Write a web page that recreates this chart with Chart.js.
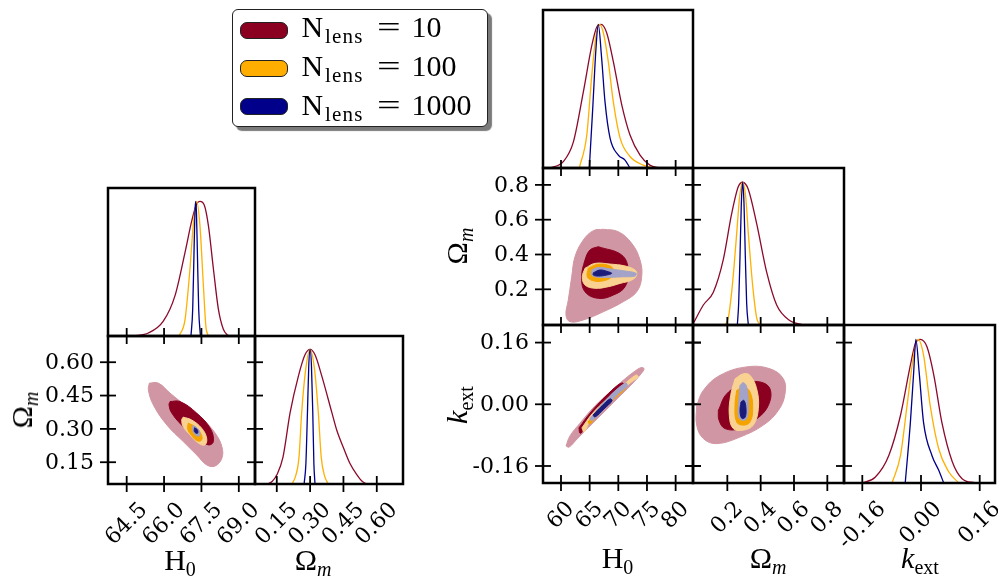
<!DOCTYPE html>
<html>
<head>
<meta charset="utf-8">
<title>Corner plots</title>
<script src="https://cdn.jsdelivr.net/npm/chart.js@4.4.1/dist/chart.umd.min.js"></script>
<style>
  html, body { margin: 0; padding: 0; background: #fff; }
  body { position: relative; width: 998px; height: 576px; overflow: hidden; }
  canvas { position: absolute; }
  .txt { position: absolute; font-family: "Liberation Serif", serif; color: #000; white-space: nowrap; line-height: 1; }
  .axl { font-size: 30px; }
  .axl sub { font-size: 20px; vertical-align: -6px; line-height: 0; }
  .rot { transform: translate(-50%, -50%) rotate(-90deg); }
  .bot { transform: translate(-50%, 0); }
  #legbox { position: absolute; left: 232px; top: 9px; width: 256px; height: 118px; box-sizing: border-box;
            border: 1.5px solid #222; border-radius: 6px; background: #fff; box-shadow: 4px 4px 1px #7a7a7a; }
  .patch { position: absolute; width: 48px; height: 17px; box-sizing: border-box; border: 1px solid #222; border-radius: 7px; }
</style>
</head>
<body>
<script>
// ---------------- data ----------------

// tick values / labels
const h0TicksL = [64.5, 66.0, 67.5, 69.0];
const h0LabelsL = ['64.5', '66.0', '67.5', '69.0'];
const omTicksL = [0.15, 0.30, 0.45, 0.60];
const omLabelsL = ['0.15', '0.30', '0.45', '0.60'];
const h0TicksR = [60, 65, 70, 75, 80];
const h0LabelsR = ['60', '65', '70', '75', '80'];
const omTicksR = [0.2, 0.4, 0.6, 0.8];
const omLabelsR = ['0.2', '0.4', '0.6', '0.8'];
const kTicks = [-0.16, 0.0, 0.16];
const kLabels = ['-0.16', '0.00', '0.16'];

// axis ranges
const h0RangeL = [63.75, 69.65];
const omRangeL = [0.052, 0.718];
const h0RangeR = [56.86, 83.03];
const omRangeRy = [-0.005, 0.897];
const omRangeRx = [-0.006, 0.9];
const kRangeY = [-0.2041, 0.2056];
const kRangeX = [-0.2099, 0.2017];
const pdfRange = [0, 1.1];

// legend
const legendValues = ['10', '100', '1000'];

// 1D marginals, left figure (x, normalised density)
const L_h0_red = [[64.77,0],[65.37,0.022],[65.97,0.11],[66.44,0.30],[66.84,0.62],[67.13,0.87],[67.31,0.98],[67.44,1],[67.62,0.97],[67.78,0.82],[67.98,0.50],[68.18,0.20],[68.38,0.05],[68.58,0]];
const L_h0_orange = [[66.60,0],[66.84,0.12],[67.04,0.5],[67.17,0.82],[67.31,1],[67.44,0.82],[67.58,0.37],[67.68,0.07],[67.78,0]];
const L_h0_blue = [[67.08,0],[67.15,0.2],[67.2,0.6],[67.24,0.92],[67.27,1],[67.3,0.92],[67.34,0.6],[67.39,0.2],[67.46,0]];
const L_om_red = [[0.107,0],[0.13,0.02],[0.151,0.07],[0.178,0.2],[0.21,0.53],[0.247,0.8],[0.277,0.96],[0.30,1],[0.322,0.96],[0.353,0.8],[0.398,0.53],[0.42,0.4],[0.45,0.27],[0.48,0.15],[0.51,0.07],[0.534,0.02],[0.556,0]];
const L_om_orange = [[0.218,0],[0.235,0.06],[0.25,0.2],[0.262,0.53],[0.28,0.85],[0.30,1],[0.32,0.85],[0.337,0.53],[0.35,0.2],[0.365,0.06],[0.382,0]];
const L_om_blue = [[0.273,0],[0.281,0.15],[0.288,0.53],[0.294,0.88],[0.30,1],[0.306,0.88],[0.312,0.53],[0.317,0.15],[0.322,0]];

// 2D contours, left figure (H0, Om)
const L2_red_out = [[65.41,0.506],[65.77,0.506],[66.24,0.461],[66.91,0.400],[67.58,0.340],[68.05,0.281],[68.32,0.220],[68.32,0.168],[68.05,0.133],[67.71,0.138],[67.31,0.183],[66.77,0.243],[66.11,0.318],[65.57,0.408],[65.37,0.476]];
const L2_red_in = [[66.24,0.423],[66.64,0.423],[67.31,0.371],[67.85,0.303],[67.98,0.243],[67.78,0.228],[67.31,0.258],[66.77,0.310],[66.31,0.371],[66.20,0.408]];
const L2_or_out = [[66.77,0.353],[67.11,0.340],[67.51,0.303],[67.71,0.258],[67.64,0.228],[67.38,0.236],[67.04,0.273],[66.77,0.310],[66.71,0.340]];
const L2_or_in = [[66.97,0.326],[67.24,0.310],[67.48,0.278],[67.51,0.250],[67.34,0.246],[67.11,0.269],[66.95,0.299]];
const L2_bl_out = [[67.15,0.314],[67.28,0.309],[67.42,0.289],[67.42,0.269],[67.28,0.271],[67.16,0.291]];
const L2_bl_in = [[67.22,0.305],[67.34,0.296],[67.34,0.280],[67.22,0.287]];

// 1D marginals, right figure
const R_h0_red = [[58.1,0],[60.4,0.044],[62.15,0.18],[63.9,0.53],[65.36,0.85],[66.23,0.98],[66.98,1],[67.98,0.94],[69.13,0.74],[70.6,0.44],[72.04,0.23],[73.79,0.09],[75.5,0.02],[77.3,0]];
const R_h0_orange = [[63.2,0],[64.5,0.23],[65.36,0.64],[66.1,0.92],[66.7,1],[67.4,0.94],[68.25,0.74],[69.13,0.46],[70.3,0.21],[72.04,0.08],[74.36,0.02],[76.1,0]];
const R_h0_blue = [[64.94,0],[65.53,0.41],[66.1,0.83],[66.5,1],[67.1,0.76],[67.68,0.46],[68.55,0.21],[70.0,0.09],[71.17,0.055],[72.04,0]];
const R_om_red = [[0.0,0.02],[0.056,0.14],[0.116,0.23],[0.176,0.46],[0.226,0.78],[0.266,0.97],[0.292,1],[0.326,0.95],[0.376,0.71],[0.436,0.37],[0.496,0.14],[0.576,0.03],[0.656,0]];
const R_om_orange = [[0.186,0],[0.206,0.05],[0.226,0.23],[0.241,0.42],[0.256,0.64],[0.274,0.9],[0.292,1],[0.31,0.9],[0.326,0.64],[0.341,0.42],[0.356,0.23],[0.376,0.05],[0.396,0]];
const R_om_blue = [[0.26,0],[0.268,0.15],[0.276,0.48],[0.284,0.85],[0.292,1],[0.30,0.85],[0.308,0.48],[0.316,0.15],[0.326,0]];
const R_k_red = [[-0.161,0],[-0.125,0.04],[-0.088,0.19],[-0.056,0.47],[-0.029,0.82],[-0.0155,0.97],[-0.002,1],[0.016,0.95],[0.035,0.75],[0.057,0.42],[0.085,0.15],[0.112,0.03],[0.148,0]];
const R_k_orange = [[-0.079,0],[-0.056,0.19],[-0.038,0.54],[-0.02,0.89],[-0.008,1],[0.007,0.89],[0.025,0.54],[0.048,0.24],[0.075,0.08],[0.103,0]];
const R_k_blue = [[-0.043,0],[-0.029,0.42],[-0.02,0.77],[-0.014,1],[-0.005,0.77],[0.007,0.42],[0.03,0.19],[0.048,0.09],[0.062,0]];

// 2D contours, right figure: (H0, Om)
const R2_red_out = [[67.38,0.545],[70.0,0.531],[72.34,0.464],[73.79,0.368],[74.08,0.272],[73.21,0.186],[70.87,0.129],[67.38,0.071],[63.89,0.024],[61.57,0.014],[60.87,0.052],[61.27,0.138],[61.87,0.272],[62.44,0.387],[63.89,0.483],[65.64,0.537]];
const R2_red_in = [[66.51,0.445],[70.59,0.397],[71.75,0.311],[71.17,0.215],[69.13,0.167],[66.51,0.148],[64.19,0.186],[63.61,0.272],[64.19,0.368],[65.06,0.426]];
const R2_or_out = [[64.19,0.321],[65.93,0.349],[68.55,0.345],[71.17,0.334],[72.91,0.311],[73.21,0.282],[72.34,0.253],[70.30,0.234],[68.25,0.215],[65.93,0.206],[64.19,0.225],[63.72,0.272]];
const R2_or_in = [[64.76,0.321],[66.51,0.344],[68.55,0.334],[69.13,0.311],[68.85,0.272],[67.38,0.249],[65.64,0.249],[64.59,0.272]];
const R2_bl_out = [[65.36,0.311],[66.51,0.326],[68.55,0.317],[71.17,0.305],[73.09,0.292],[72.91,0.276],[70.87,0.272],[68.55,0.269],[66.51,0.269],[65.36,0.282]];
const R2_bl_in = [[65.64,0.295],[66.81,0.311],[68.25,0.301],[68.85,0.292],[67.98,0.282],[66.51,0.276],[65.64,0.282]];

// (H0, kext)
const R4_red_out = [[60.87,-0.108],[61.57,-0.082],[63.32,-0.049],[65.93,-0.004],[68.55,0.032],[71.17,0.066],[72.91,0.086],[73.96,0.095],[74.49,0.092],[73.96,0.079],[72.22,0.050],[69.77,0.014],[67.16,-0.025],[64.71,-0.061],[62.62,-0.093],[61.40,-0.111]];
const R4_red_in = [[63.14,-0.061],[65.06,-0.023],[67.68,0.019],[69.95,0.050],[70.82,0.055],[70.65,0.042],[68.20,0.003],[65.76,-0.033],[64.01,-0.067],[63.32,-0.075]];
const R4_or_out = [[63.66,-0.061],[65.41,-0.025],[68.03,0.014],[70.65,0.047],[73.09,0.076],[73.44,0.071],[72.04,0.055],[69.77,0.024],[67.33,-0.012],[65.06,-0.046],[64.01,-0.072]];
const R4_or_in = [[64.71,-0.046],[66.81,-0.007],[69.08,0.027],[71.0,0.047],[71.34,0.042],[69.42,0.016],[67.16,-0.017],[65.06,-0.051]];
const R4_bl_out = [[65.06,-0.037],[67.33,0.003],[69.6,0.037],[71.34,0.055],[71.52,0.047],[69.95,0.027],[67.68,-0.010],[65.41,-0.043]];
const R4_bl_in = [[65.58,-0.028],[67.16,-0.004],[68.55,0.014],[68.9,0.009],[67.5,-0.012],[65.93,-0.033]];

// (Om, kext)
const R5_red_out = [[0.016,-0.003],[0.056,0.036],[0.156,0.075],[0.316,0.097],[0.456,0.092],[0.536,0.066],[0.546,0.027],[0.506,-0.016],[0.416,-0.054],[0.276,-0.085],[0.136,-0.102],[0.056,-0.089],[0.016,-0.054]];
const R5_red_in = [[0.146,-0.016],[0.196,0.027],[0.296,0.053],[0.396,0.058],[0.456,0.040],[0.446,-0.003],[0.376,-0.038],[0.276,-0.063],[0.186,-0.063],[0.150,-0.041]];
const R5_or_out = [[0.246,0.066],[0.296,0.079],[0.336,0.075],[0.376,0.040],[0.386,-0.011],[0.356,-0.054],[0.296,-0.067],[0.236,-0.063],[0.212,-0.029],[0.220,0.023]];
const R5_or_in = [[0.256,0.036],[0.296,0.045],[0.336,0.032],[0.352,-0.011],[0.336,-0.046],[0.296,-0.054],[0.256,-0.046],[0.246,-0.003]];
const R5_bl_out = [[0.276,0.049],[0.296,0.056],[0.316,0.045],[0.326,-0.003],[0.316,-0.037],[0.286,-0.041],[0.266,-0.029],[0.270,0.015]];
const R5_bl_in = [[0.282,0.006],[0.300,0.010],[0.312,-0.012],[0.306,-0.034],[0.286,-0.036],[0.276,-0.017]];

// ---------------- styling ----------------
const lineRed = '#8b0a2c', lineOrange = '#ffb000', lineBlue = '#000088';
const redDark = '#8b0020', redLight = '#d196a3';
const orDark = '#f5a300', orLight = '#f9d291';
const blDark = '#1b1b7a', blLight = '#a3a3c9';

function curve(pts, color, order) {
    return {
        data: pts.map(p => ({x: p[0], y: p[1]})),
        showLine: true, fill: false,
        borderColor: color, borderWidth: 1.3,
        cubicInterpolationMode: 'monotone',
        pointRadius: 0, order: order
    };
}

function blob(pts, color, order) {
    const closed = pts.concat([pts[0]]);
    return {
        data: closed.map(p => ({x: p[0], y: p[1]})),
        showLine: true, fill: 'shape',
        backgroundColor: color, borderColor: color, borderWidth: 1,
        tension: 0.4, pointRadius: 0, order: order
    };
}

function marginals(r, o, b) {
    return [curve(r, lineRed, 3), curve(o, lineOrange, 2), curve(b, lineBlue, 1)];
}

function contours(ro, ri, oo, oi, bo, bi) {
    return [blob(ro, redLight, 6), blob(ri, redDark, 5), blob(oo, orLight, 4),
            blob(oi, orDark, 3), blob(bo, blLight, 2), blob(bi, blDark, 1)];
}

// frame, crossing ticks and tick labels, placed through the chart scales
const framePlugin = {
    id: 'frame',
    afterDatasetsDraw(chart, args, o) {
        const ctx = chart.ctx, a = chart.chartArea;
        const sx = chart.scales.x, sy = chart.scales.y;
        const seg = (x0, y0, x1, y1) => { ctx.beginPath(); ctx.moveTo(x0, y0); ctx.lineTo(x1, y1); ctx.stroke(); };
        ctx.save();
        ctx.strokeStyle = '#000';
        ctx.lineWidth = 1.8;
        (o.xTicks || []).forEach(v => {
            const p = sx.getPixelForValue(v);
            seg(p, a.bottom - 8, p, a.bottom + 8);
        });
        (o.yTicks || []).forEach(v => {
            const p = sy.getPixelForValue(v);
            seg(a.left - 8, p, a.left + 8, p);
            if (o.mirrorY) seg(a.right - 8, p, a.right + 8, p);
        });
        ctx.lineWidth = 2.5;
        ctx.strokeRect(a.left, a.top, a.right - a.left, a.bottom - a.top);

        ctx.fillStyle = '#000';
        ctx.font = '22px "DejaVu Serif"';
        if (o.xLabels) o.xLabels.forEach((s, i) => {
            const p = sx.getPixelForValue(o.xTicks[i]);
            const w = ctx.measureText(s).width;
            ctx.save();
            ctx.translate(p, a.bottom + 15 + (w + 22) / 2.83);
            ctx.rotate(-Math.PI / 4);
            ctx.textAlign = 'center';
            ctx.textBaseline = 'middle';
            ctx.fillText(s, 0, 0);
            ctx.restore();
        });
        if (o.yLabels) o.yLabels.forEach((s, i) => {
            const p = sy.getPixelForValue(o.yTicks[i]);
            ctx.textAlign = 'right';
            ctx.textBaseline = 'middle';
            ctx.fillText(s, a.left - 14, p + 1);
        });
        ctx.restore();
    }
};

// one canvas per panel; box = [left, top, right, bottom] of the axes frame
function panel(box, xr, yr, datasets, deco) {
    const L = 120, R = 40, T = 20, B = 90;
    const c = document.createElement('canvas');
    c.width = box[2] - box[0] + L + R;
    c.height = box[3] - box[1] + T + B;
    c.style.left = (box[0] - L) + 'px';
    c.style.top = (box[1] - T) + 'px';
    document.body.appendChild(c);
    return new Chart(c, {
        type: 'scatter',
        data: {datasets: datasets},
        options: {
            responsive: false,
            animation: false,
            devicePixelRatio: 1,
            layout: {padding: {left: L, right: R, top: T, bottom: B}},
            plugins: {legend: {display: false}, tooltip: {enabled: false}, frame: deco},
            scales: {
                x: {type: 'linear', display: false, min: xr[0], max: xr[1]},
                y: {type: 'linear', display: false, min: yr[0], max: yr[1]}
            }
        },
        plugins: [framePlugin]
    });
}

// ---------------- left corner plot ----------------
panel([108, 188, 255, 336], h0RangeL, pdfRange, marginals(L_h0_red, L_h0_orange, L_h0_blue),
      {xTicks: h0TicksL});
panel([108, 336, 255, 484], h0RangeL, omRangeL,
      contours(L2_red_out, L2_red_in, L2_or_out, L2_or_in, L2_bl_out, L2_bl_in),
      {xTicks: h0TicksL, yTicks: omTicksL, mirrorY: true, xLabels: h0LabelsL, yLabels: omLabelsL});
panel([255, 336, 403, 484], omRangeL, pdfRange, marginals(L_om_red, L_om_orange, L_om_blue),
      {xTicks: omTicksL, xLabels: omLabelsL});

// ---------------- right corner plot ----------------
panel([543, 10, 693, 168], h0RangeR, pdfRange, marginals(R_h0_red, R_h0_orange, R_h0_blue),
      {xTicks: h0TicksR});
panel([543, 168, 693, 325], h0RangeR, omRangeRy,
      contours(R2_red_out, R2_red_in, R2_or_out, R2_or_in, R2_bl_out, R2_bl_in),
      {xTicks: h0TicksR, yTicks: omTicksR, mirrorY: true, yLabels: omLabelsR});
panel([693, 168, 844, 325], omRangeRx, pdfRange, marginals(R_om_red, R_om_orange, R_om_blue),
      {xTicks: omTicksR});
panel([543, 325, 693, 483], h0RangeR, kRangeY,
      contours(R4_red_out, R4_red_in, R4_or_out, R4_or_in, R4_bl_out, R4_bl_in),
      {xTicks: h0TicksR, yTicks: kTicks, mirrorY: true, xLabels: h0LabelsR, yLabels: kLabels});
panel([693, 325, 844, 483], omRangeRx, kRangeY,
      contours(R5_red_out, R5_red_in, R5_or_out, R5_or_in, R5_bl_out, R5_bl_in),
      {xTicks: omTicksR, yTicks: kTicks, mirrorY: true, xLabels: omLabelsR});
panel([844, 325, 995, 483], kRangeX, pdfRange, marginals(R_k_red, R_k_orange, R_k_blue),
      {xTicks: kTicks, xLabels: kLabels});

// ---------------- axis titles ----------------
function label(html, x, y, cls) {
    const d = document.createElement('div');
    d.className = 'txt axl ' + cls;
    d.innerHTML = html;
    d.style.left = x + 'px';
    d.style.top = y + 'px';
    document.body.appendChild(d);
}
const H0 = 'H<sub>0</sub>';
const OM = '\u03A9<sub><i>m</i></sub>';
const KEXT = '<i>k</i><sub>ext</sub>';
// bottom titles: top = baseline - 0.8375 * font size
label(H0, 180, 570 - 25.1, 'bot');
label(OM, 313, 570 - 25.1, 'bot');
label(H0, 617.5, 568 - 25.1, 'bot');
label(OM, 768, 568 - 25.1, 'bot');
label(KEXT, 920, 568 - 25.1, 'bot');
// vertical titles
label(OM, 22, 410, 'rot');
label(OM, 457, 246, 'rot');
label(KEXT, 457, 405, 'rot');

// ---------------- legend ----------------
const legBox = document.createElement('div');
legBox.id = 'legbox';
document.body.appendChild(legBox);
const legColors = [redDark, '#ffae00', '#00008b'];
const rowPatchTop = [22, 60, 97.5];
const rowBase = [37.3, 76, 115];
function put(text, x, baseline, size, extra) {
    const s = document.createElement('span');
    s.className = 'txt';
    s.textContent = text;
    s.style.fontSize = size + 'px';
    s.style.left = x + 'px';
    s.style.top = (baseline - 0.8375 * size) + 'px';
    if (extra) Object.assign(s.style, extra);
    document.body.appendChild(s);
}
legendValues.forEach((v, i) => {
    const p = document.createElement('div');
    p.className = 'patch';
    p.style.left = '240px';
    p.style.top = rowPatchTop[i] + 'px';
    p.style.background = legColors[i];
    document.body.appendChild(p);
    put('N', 301.5, rowBase[i], 30);
    put('lens', 325, rowBase[i] + 6.5, 21, {letterSpacing: '1.2px'});
    put('=', 377, rowBase[i], 30, {transform: 'scaleX(1.4)', transformOrigin: 'left'});
    put(v, 411.5, rowBase[i], 30);
});
</script>
</body>
</html>
